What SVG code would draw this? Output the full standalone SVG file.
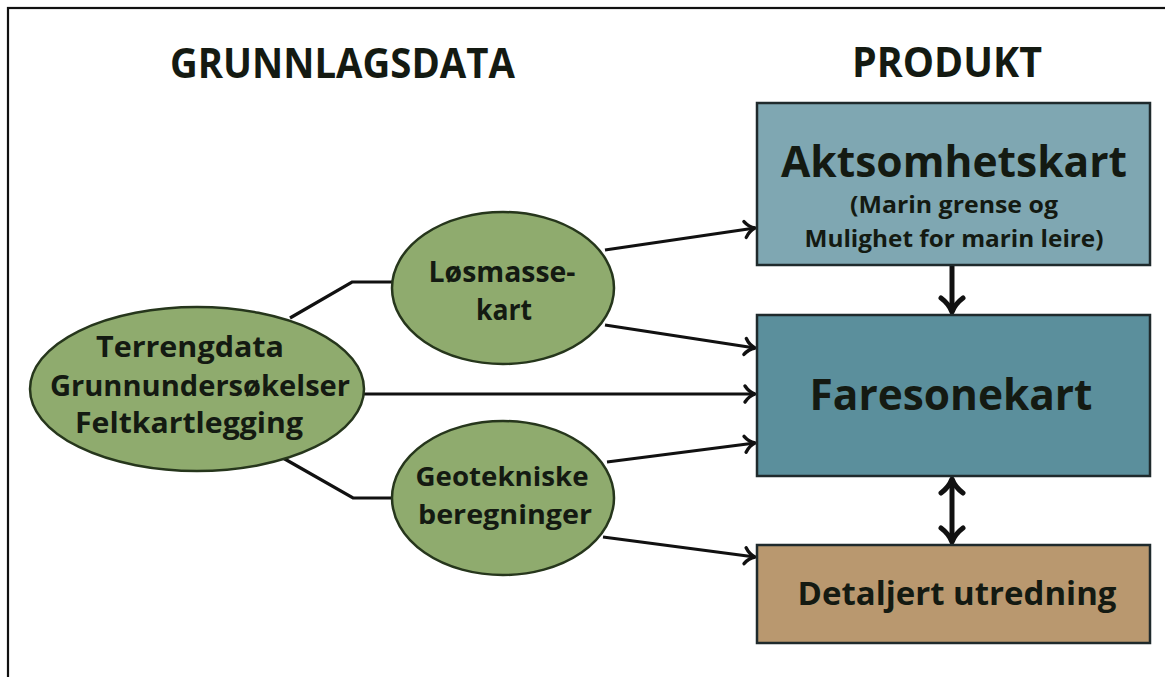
<svg xmlns="http://www.w3.org/2000/svg" width="1165" height="677" viewBox="0 0 1165 677">
<style>
text{font-family:"Open Sans","Liberation Sans",sans-serif;font-weight:700;fill:#141a12;text-anchor:middle}
.ell{fill:#8fab6e;stroke:#26361c;stroke-width:2.5}
.box{stroke:#1f2a2c;stroke-width:2.5}
.con{fill:none;stroke:#111;stroke-width:3.2}
.vcon{fill:none;stroke:#111;stroke-width:5}
.title{font-size:42px}
.et{font-size:29px}
.gt{font-size:27px}
</style>
<defs>
<marker id="ah" markerUnits="userSpaceOnUse" markerWidth="22" markerHeight="22" viewBox="0 0 22 22" refX="19" refY="11" orient="auto-start-reverse">
<path d="M9,3 Q13,9 19,11 Q13,13 9,19" fill="none" stroke="#111" stroke-width="3.4" stroke-linecap="round" stroke-linejoin="round"/>
</marker>
<marker id="ahb" markerUnits="userSpaceOnUse" markerWidth="30" markerHeight="30" viewBox="0 0 30 30" refX="26" refY="15" orient="auto-start-reverse">
<path d="M12,4 Q18,12 26,15 Q18,18 12,26" fill="none" stroke="#111" stroke-width="5" stroke-linecap="round" stroke-linejoin="round"/>
</marker>
</defs>
<rect x="8" y="8" width="1200" height="700" fill="#fff" stroke="#111" stroke-width="2.2"/>
<text class="title" x="342.5" y="78" textLength="345" lengthAdjust="spacingAndGlyphs">GRUNNLAGSDATA</text>
<text class="title" x="947" y="77" textLength="190" lengthAdjust="spacingAndGlyphs">PRODUKT</text>
<g id="connectors">
<polyline class="con" points="290,318 352,282 392,282"/>
<polyline class="con" points="283,458 353,498 392,498"/>
<line class="con" x1="363" y1="394" x2="755" y2="394" marker-end="url(#ah)"/>
<line class="con" x1="605" y1="250" x2="755" y2="228" marker-end="url(#ah)"/>
<line class="con" x1="605" y1="325" x2="755" y2="348" marker-end="url(#ah)"/>
<line class="con" x1="607" y1="462" x2="755" y2="443" marker-end="url(#ah)"/>
<line class="con" x1="603" y1="537" x2="755" y2="557" marker-end="url(#ah)"/>
<line class="vcon" x1="952" y1="265" x2="952" y2="312" marker-end="url(#ahb)"/>
<line class="vcon" x1="952" y1="479" x2="952" y2="542" marker-start="url(#ahb)" marker-end="url(#ahb)"/>
</g>
<g id="terrengdata">
<ellipse class="ell" cx="197" cy="389" rx="167" ry="82"/>
<text class="et" x="190" y="357" textLength="188" lengthAdjust="spacingAndGlyphs">Terrengdata</text>
<text class="et" x="200" y="396" textLength="300" lengthAdjust="spacingAndGlyphs">Grunnundersøkelser</text>
<text class="et" x="189" y="433" textLength="228" lengthAdjust="spacingAndGlyphs">Feltkartlegging</text>
</g>
<g id="losmassekart">
<ellipse class="ell" cx="503" cy="288" rx="111" ry="76"/>
<text class="et" x="502" y="282" textLength="147" lengthAdjust="spacingAndGlyphs">Løsmasse-</text>
<text class="et" x="504" y="320" textLength="56" lengthAdjust="spacingAndGlyphs">kart</text>
</g>
<g id="geotekniske">
<ellipse class="ell" cx="503" cy="498" rx="111" ry="77"/>
<text class="gt" x="502" y="486" textLength="173" lengthAdjust="spacingAndGlyphs">Geotekniske</text>
<text class="gt" x="505" y="524" textLength="174" lengthAdjust="spacingAndGlyphs">beregninger</text>
</g>
<g id="aktsomhetskart">
<rect class="box" x="757" y="103" width="393" height="162" fill="#7fa7b2"/>
<text x="954" y="177" font-size="43" textLength="346" lengthAdjust="spacingAndGlyphs">Aktsomhetskart</text>
<text x="954" y="213" font-size="24" textLength="208" lengthAdjust="spacingAndGlyphs">(Marin grense og</text>
<text x="954" y="247" font-size="24" textLength="299" lengthAdjust="spacingAndGlyphs">Mulighet for marin leire)</text>
</g>
<g id="faresonekart">
<rect class="box" x="757" y="315" width="393" height="161" fill="#5b8f9c"/>
<text x="951" y="410" font-size="43" textLength="283" lengthAdjust="spacingAndGlyphs">Faresonekart</text>
</g>
<g id="detaljert">
<rect class="box" x="757" y="545" width="393" height="98" fill="#b9986f"/>
<text x="957" y="605" font-size="33" textLength="319" lengthAdjust="spacingAndGlyphs">Detaljert utredning</text>
</g>
</svg>
